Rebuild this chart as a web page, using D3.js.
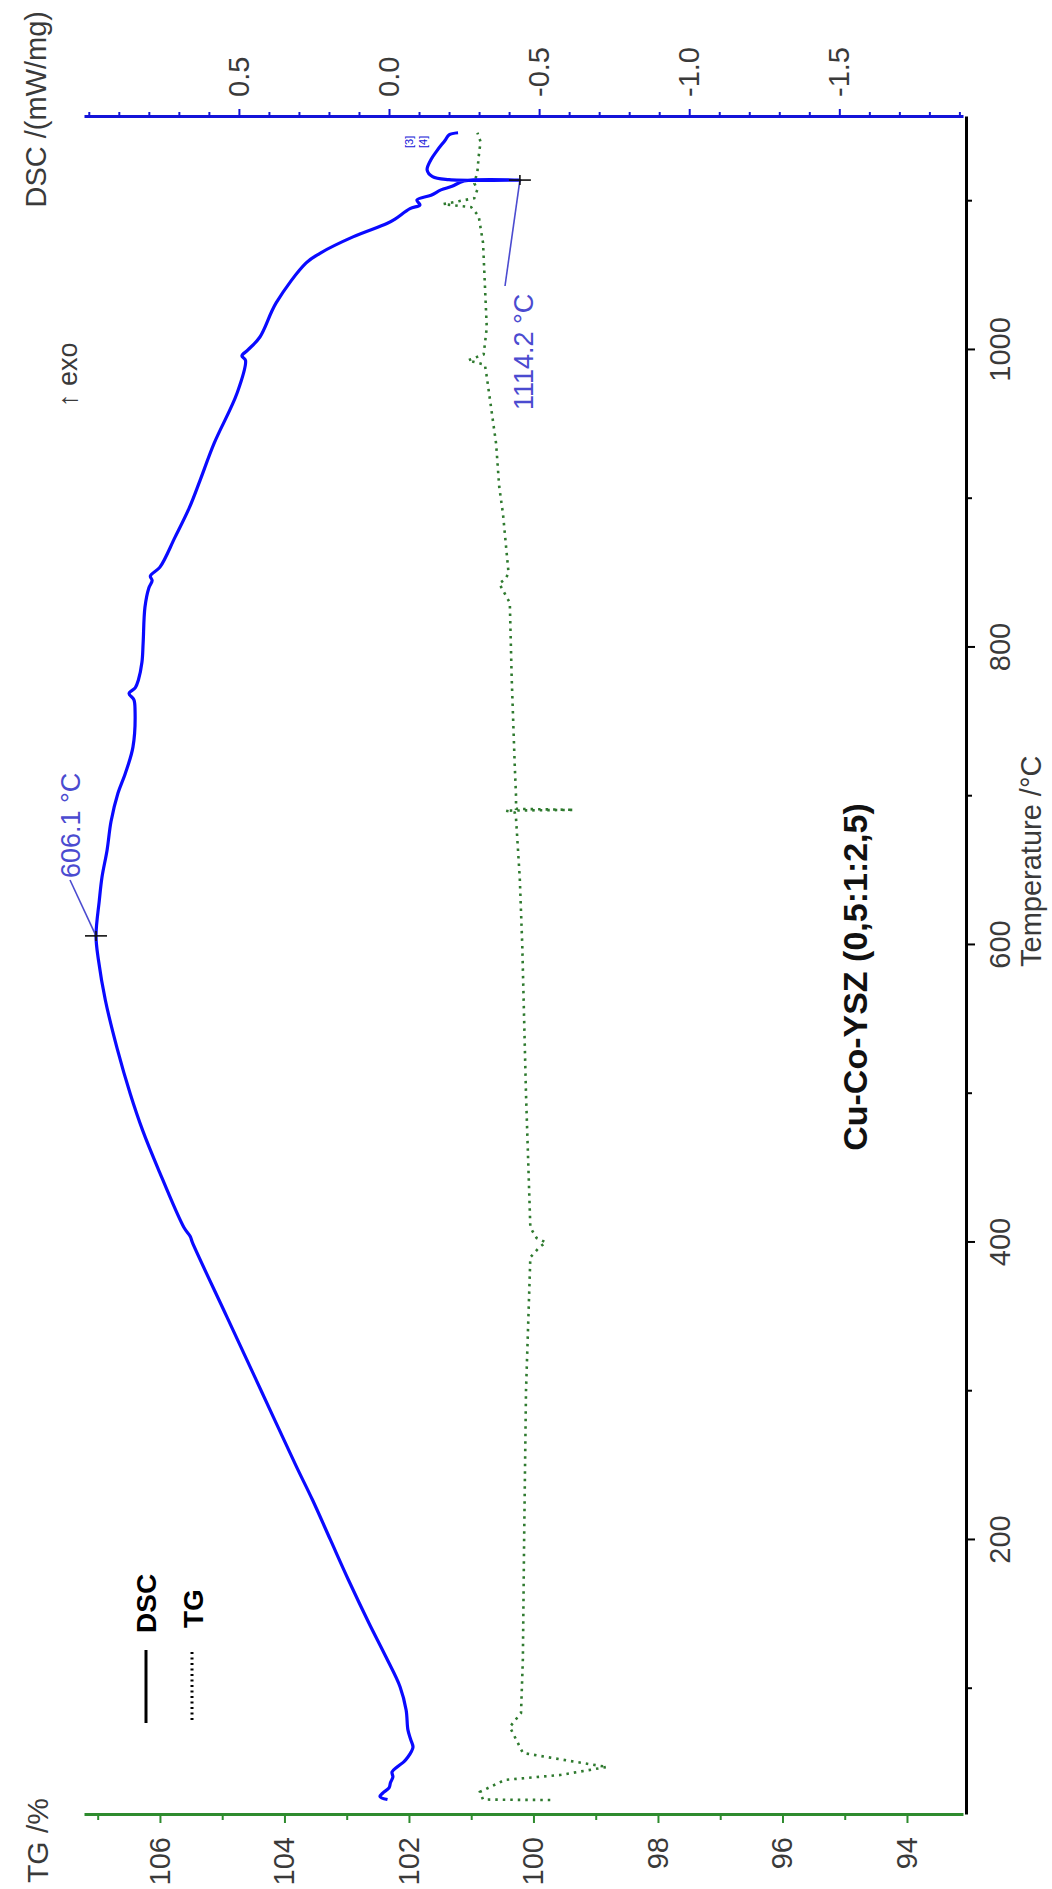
<!DOCTYPE html>
<html>
<head>
<meta charset="utf-8">
<script src="https://cdn.jsdelivr.net/npm/d3@7"></script>
<style>
  html, body { margin: 0; padding: 0; background: #ffffff; }
  svg { display: block; }
  text { font-family: "Liberation Sans", Arial, "DejaVu Sans", sans-serif; }
</style>
</head>
<body>
<svg id="chart" width="1052" height="1889"></svg>
<script>
// Temperature axis ticks (°C), TG ticks (%), DSC ticks (mW/mg)
const tempTicks = [200, 400, 600, 800, 1000];
const tempMinor = [100, 300, 500, 700, 900, 1100];
const tgTicks = [94, 96, 98, 100, 102, 104, 106];
const tgMinor = [95, 97, 99, 101, 103, 105, 107];
const dscTicks = [0.5, 0.0, -0.5, -1.0, -1.5];

// DSC signal: temperature (°C) and heat flow (mW/mg)
const dscTemp = [25.5, 27.5, 30, 33.3, 37, 40.7, 44, 47.4, 51, 54.1, 58, 60.8, 66, 72.3, 85.7, 101.2, 121.3, 144.2, 173.1, 200,
  227, 250, 300, 350, 400, 404, 410, 450, 475, 500, 530, 563, 590, 606.1, 630, 645.7, 663.9, 683, 702, 715, 733,
  758, 765, 769, 773, 778, 790, 803, 827, 840, 845, 848, 854, 874, 894, 912, 937, 971, 993, 996, 1000,
  1008.7, 1031.6, 1058.5, 1065, 1076, 1085, 1088, 1095, 1097.5, 1100.8, 1104, 1107.6, 1110, 1113.6, 1114.2, 1114.5,
  1116.5, 1121, 1128, 1134, 1141, 1144.6, 1146];
const dscValue = [0.005, 0.03, 0.02, 0.0, -0.005, -0.013, -0.01, -0.027, -0.05, -0.063, -0.075, -0.08, -0.072, -0.063, -0.057, -0.037, 0.01, 0.067, 0.135, 0.195,
  0.255, 0.31, 0.425, 0.54, 0.655, 0.662, 0.683, 0.77, 0.82, 0.862, 0.905, 0.945, 0.968, 0.976, 0.965, 0.956, 0.939, 0.926, 0.903, 0.879, 0.853,
  0.846, 0.85, 0.866, 0.845, 0.835, 0.823, 0.819, 0.813, 0.80, 0.789, 0.795, 0.763, 0.713, 0.665, 0.63, 0.583, 0.506, 0.478, 0.49, 0.47,
  0.43, 0.376, 0.276, 0.23, 0.12, 0.007, -0.02, -0.07, -0.103, -0.093, -0.14, -0.173, -0.21, -0.25, -0.436, -0.2,
  -0.145, -0.127, -0.14, -0.16, -0.187, -0.2, -0.23];

// TG signal: temperature (°C) and mass (%)
const tgTemp = [25.2, 25.3, 25.5, 30.6, 38.7, 42, 47.4, 51.4, 56.8, 74.3, 83.7, 120, 200, 300, 390, 397, 400, 403, 410, 500,
  600, 645, 685, 689, 690.3, 690.8, 691.5, 700, 720, 780, 830, 843, 846, 850, 890, 908, 937, 982, 990, 993,
  997, 1015, 1072, 1090, 1096, 1098, 1100, 1102, 1108, 1112, 1120, 1130, 1140, 1146];
const tgValue = [99.73, 100.26, 100.81, 100.86, 100.46, 99.57, 98.82, 99.41, 100.17, 100.38, 100.2, 100.17, 100.15, 100.12, 100.05, 99.9, 99.8, 99.95, 100.05, 100.12,
  100.18, 100.22, 100.28, 100.3, 100.45, 99.35, 100.28, 100.28, 100.3, 100.35, 100.38, 100.55, 100.45, 100.4, 100.49, 100.55, 100.6, 100.75, 100.78, 101.05,
  100.8, 100.75, 100.81, 100.88, 101.0, 101.45, 101.2, 100.95, 100.9, 100.95, 100.9, 100.88, 100.85, 100.9];

// Marked DSC peaks
const peakTemp = [606.1, 1114.2];
const peakDsc = [0.976, -0.436];
const peakLabel = ["606.1 °C", "1114.2 °C"];

const sampleName = "Cu-Co-YSZ (0,5:1:2,5)";

// The plot is laid out landscape (1889 x 1052) and turned a quarter turn
// counter-clockwise to fill the portrait page.
const W = 1889;
const svg = d3.select("#chart");
const g = svg.append("g").attr("transform", `translate(0,${W}) rotate(-90)`);

const x = d3.scaleLinear().domain([15.1, 1156.6]).range([74, 1772]);
const yDsc = d3.scaleLinear().domain([1.016, -1.912]).range([84, 963]);
const yTg = d3.scaleLinear().domain([107.22, 93.1]).range([84, 963]);

const fmtDsc = v => d3.format(".1f")(v).replace("\u2212", "-");
const fmtInt = v => String(v);
const labelColor = "#3a3a3a";
const FS = 29;

function styleAxis(sel, color, width) {
  sel.select(".domain").attr("stroke", color).attr("stroke-width", width);
  sel.selectAll(".tick line").attr("stroke", color).attr("stroke-width", 2);
  sel.selectAll(".tick text").attr("fill", labelColor).attr("font-size", FS)
     .attr("font-family", '"Liberation Sans", Arial, sans-serif');
}

// Temperature axis (bottom of the landscape plot)
const tAxis = g.append("g").attr("transform", "translate(0,966)")
  .call(d3.axisBottom(x).tickValues(tempTicks).tickFormat(fmtInt).tickSize(9).tickSizeOuter(0).tickPadding(14));
styleAxis(tAxis, "#000000", 3);
g.append("g").attr("transform", "translate(0,966)")
  .call(d3.axisBottom(x).tickValues(tempMinor).tickSize(6).tickFormat(""))
  .call(s => { s.select(".domain").remove(); s.selectAll("line").attr("stroke", "#000").attr("stroke-width", 2); });
g.append("text").attr("x", 922).attr("y", 1041).attr("font-size", FS).attr("fill", labelColor)
  .text("Temperature /°C");

// TG axis (left)
const tgAxis = g.append("g").attr("transform", "translate(74,0)")
  .call(d3.axisLeft(yTg).tickValues(tgTicks).tickFormat(fmtInt).tickSize(8).tickSizeOuter(0).tickPadding(14));
styleAxis(tgAxis, "#2e8b2e", 3);
g.append("g").attr("transform", "translate(74,0)")
  .call(d3.axisLeft(yTg).tickValues(tgMinor).tickSize(5).tickFormat(""))
  .call(s => { s.select(".domain").remove(); s.selectAll("line").attr("stroke", "#2e8b2e").attr("stroke-width", 2); });
g.append("text").attr("x", 6).attr("y", 48).attr("font-size", 30).attr("fill", labelColor).text("TG /%");

// DSC axis (right)
const dAxis = g.append("g").attr("transform", "translate(1772,0)")
  .call(d3.axisRight(yDsc).tickValues(dscTicks).tickFormat(fmtDsc).tickSize(8).tickSizeOuter(0).tickPadding(12));
styleAxis(dAxis, "#1414d8", 3);
const dscMinor = d3.range(-19, 11).map(v => v / 10).filter(v => !dscTicks.some(t => Math.abs(t - v) < 1e-6));
g.append("g").attr("transform", "translate(1772,0)")
  .call(d3.axisRight(yDsc).tickValues(dscMinor).tickSize(5).tickFormat(""))
  .call(s => { s.select(".domain").remove(); s.selectAll("line").attr("stroke", "#1414d8").attr("stroke-width", 2); });
g.append("text").attr("x", 1878).attr("y", 46).attr("text-anchor", "end").attr("font-size", FS)
  .attr("fill", labelColor).text("DSC /(mW/mg)");

// Curves
const dscData = dscTemp.map((t, i) => [t, dscValue[i]]);
const tgData = tgTemp.map((t, i) => [t, tgValue[i]]);

g.append("path").datum(tgData)
  .attr("fill", "none").attr("stroke", "#2f7a2f").attr("stroke-width", 2.6)
  .attr("stroke-dasharray", "2.5,5")
  .attr("d", d3.line().x(d => x(d[0])).y(d => yTg(d[1])));

g.append("path").datum(dscData)
  .attr("fill", "none").attr("stroke", "#0a0aff").attr("stroke-width", 3.2)
  .attr("stroke-linejoin", "round")
  .attr("d", d3.line().curve(d3.curveCatmullRom.alpha(0.5)).x(d => x(d[0])).y(d => yDsc(d[1])));

// Peak markers and labels
const annBlue = "#4b4bd0";
const labelPos = [
  { tx: 1011, ty: 80, lx: 1009, ly: 70 },
  { tx: 1479, ty: 533, lx: 1603, ly: 505 }
];
peakTemp.forEach((t, i) => {
  const px = x(t), py = yDsc(peakDsc[i]);
  const p = labelPos[i];
  g.append("line").attr("x1", p.lx).attr("y1", p.ly).attr("x2", px).attr("y2", py)
    .attr("stroke", annBlue).attr("stroke-width", 1.6);
  g.append("line").attr("x1", px).attr("x2", px).attr("y1", py - 11).attr("y2", py + 11)
    .attr("stroke", "#111").attr("stroke-width", 1.6);
  g.append("line").attr("x1", px - 5).attr("x2", px + 5).attr("y1", py).attr("y2", py)
    .attr("stroke", "#111").attr("stroke-width", 1.6);
  g.append("text").attr("x", p.tx).attr("y", p.ty).attr("font-size", 27).attr("fill", annBlue)
    .text(peakLabel[i]);
});

// Segment tags at the end of the run
g.append("text").attr("x", 1741).attr("y", 413).attr("font-size", 11).attr("fill", "#1414d8").text("[3]");
g.append("text").attr("x", 1741).attr("y", 427).attr("font-size", 11).attr("fill", "#1414d8").text("[4]");

// exo direction
g.append("text").attr("x", 1482).attr("y", 77).attr("font-size", 27).attr("fill", labelColor).text("\u2191 exo");

// Sample name
g.append("text").attr("x", 912).attr("y", 867).attr("text-anchor", "middle")
  .attr("font-size", 34).attr("font-weight", "bold").attr("fill", "#111").text(sampleName);

// Legend
g.append("line").attr("x1", 166).attr("x2", 239).attr("y1", 146).attr("y2", 146)
  .attr("stroke", "#000").attr("stroke-width", 3);
g.append("text").attr("x", 256).attr("y", 156).attr("font-size", 28).attr("font-weight", "bold")
  .attr("fill", "#000").text("DSC");
g.append("line").attr("x1", 169).attr("x2", 239).attr("y1", 192).attr("y2", 192)
  .attr("stroke", "#000").attr("stroke-width", 3).attr("stroke-dasharray", "2,3.5");
g.append("text").attr("x", 261).attr("y", 203).attr("font-size", 28).attr("font-weight", "bold")
  .attr("fill", "#000").text("TG");
</script>
</body>
</html>
